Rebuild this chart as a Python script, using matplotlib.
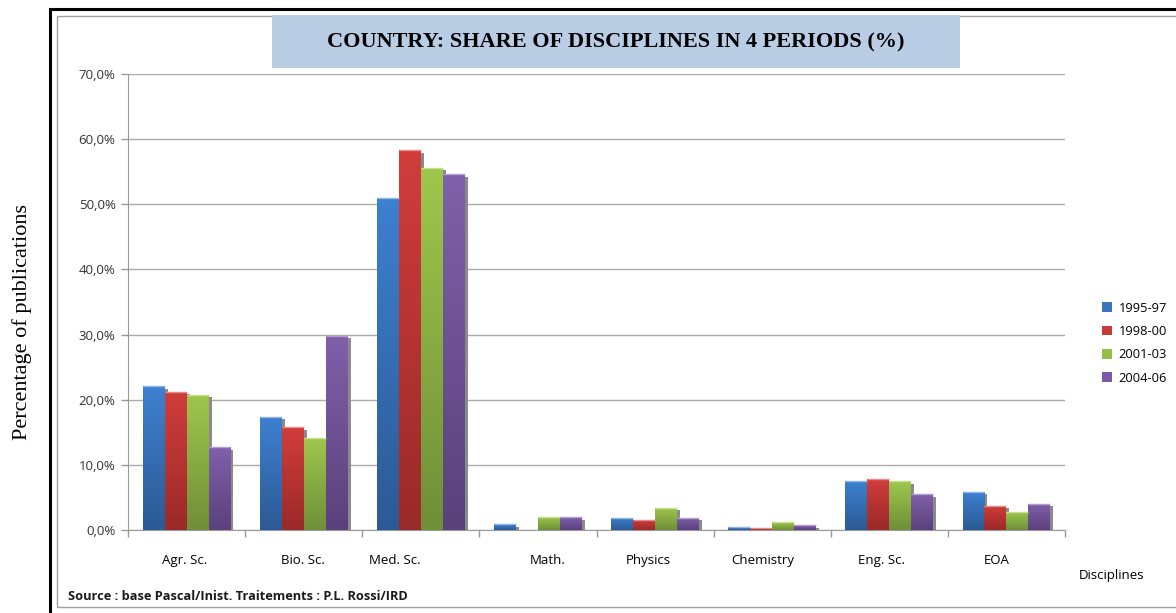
import numpy as np
import matplotlib
matplotlib.use("Agg")
import matplotlib.pyplot as plt
from matplotlib.patches import Rectangle, Patch
from matplotlib.colors import LinearSegmentedColormap
import matplotlib.transforms as mtransforms

categories = ["Agr. Sc.", "Bio. Sc.", "Med. Sc.", "Math.", "Physics", "Chemistry", "Eng. Sc.", "EOA"]
periods = ["1995-97", "1998-00", "2001-03", "2004-06"]
v1995 = [22.1, 17.4, 50.9, 0.9, 1.9, 0.4, 7.5, 5.9]
v1998 = [21.2, 15.8, 58.3, 0.0, 1.6, 0.25, 7.8, 3.7]
v2001 = [20.8, 14.1, 55.6, 2.05, 3.4, 1.2, 7.5, 2.8]
v2004 = [12.7, 29.8, 54.6, 1.95, 1.9, 0.7, 5.5, 4.0]
series = [v1995, v1998, v2001, v2004]
yticks = [0, 10, 20, 30, 40, 50, 60, 70]
label_shift = [-0.02, -0.01, -0.22, 0.08, -0.06, -0.08, -0.07, -0.08]

grad = [("#2c5a95", "#3d80d0"), ("#9a2a29", "#d03d3b"), ("#6f8f38", "#9ec74d"), ("#5a417c", "#8060aa")]
tops = ["#8fb6e6", "#e58b89", "#c6e08f", "#b29fd0"]
legend_cols = ["#3a76c0", "#c63a38", "#95bd49", "#7a5aa2"]

fig = plt.figure(figsize=(11.76, 6.13), dpi=100)
fig.patch.set_facecolor("white")

# frame
fig.patches.append(Rectangle((50/1176, -0.05), 1.2, (613-9)/613 + 0.05, transform=fig.transFigure,
                             fill=False, edgecolor="black", linewidth=2.2, zorder=0))
fig.patches.append(Rectangle((57/1176, (613-607)/613), 1.2, (607-16)/613, transform=fig.transFigure,
                             fill=False, edgecolor="#a0a0a0", linewidth=1.0, zorder=0))
# title box
fig.patches.append(Rectangle((272/1176, (613-68)/613), (960-272)/1176, 53/613, transform=fig.transFigure,
                             facecolor="#b9cde5", edgecolor="none", zorder=1))
fig.text(616/1176, (613-42)/613, "COUNTRY: SHARE OF DISCIPLINES IN 4 PERIODS (%)", ha="center", va="center",
         fontsize=16, fontweight="bold", family="Liberation Serif", color="black")

ax = fig.add_axes([128/1176, (613-530)/613, (1065-128)/1176, (530-74)/613])
n = len(categories)
x = np.arange(n)
bw = 0.75 / 4

for i, (vals, (c0, c1)) in enumerate(zip(series, grad)):
    offs = (i - 1.5) * bw
    cmap = LinearSegmentedColormap.from_list(f"g{i}", [c0, c1])
    for j, v in enumerate(vals):
        if v <= 0:
            continue
        x0 = x[j] + offs - bw / 2
        sh = Rectangle((x0, 0), bw, v, facecolor="#8a8a8a", edgecolor="none", zorder=2)
        sh.set_transform(ax.transData + mtransforms.ScaledTranslation(3/100, -2.5/100, fig.dpi_scale_trans))
        ax.add_patch(sh)
        rect = Rectangle((x0, 0), bw, v, facecolor="none", edgecolor="none", zorder=3)
        ax.add_patch(rect)
        im = ax.imshow(np.linspace(0, 1, 64).reshape(-1, 1), cmap=cmap, aspect="auto", origin="lower",
                       extent=(x0, x0 + bw, 0, v), zorder=3, interpolation="bilinear")
        im.set_clip_path(rect)
        ax.plot([x0, x0 + bw], [v, v], color=tops[i], linewidth=1.0, zorder=4, solid_capstyle="butt")
ax.set_xlim(-0.5, n - 0.5)
ax.set_ylim(0, 70)

ax.set_yticks(yticks)
ax.set_yticklabels([f"{t:.1f}%".replace(".", ",") for t in yticks], fontsize=9.5, family="Open Sans", color="#333333")
ax.yaxis.grid(True, color="#ababab", linewidth=1.0, zorder=0)
ax.set_axisbelow(True)
ax.set_xticks(np.arange(-0.5, n + 0.5, 1))
ax.set_xticklabels([])
ax.tick_params(axis="y", length=5, color="#9a9a9a", width=1, pad=4)
ax.tick_params(axis="x", length=5, color="#9a9a9a", width=1)
for s in ["top", "right"]:
    ax.spines[s].set_visible(False)
ax.spines["left"].set_color("#9a9a9a")
ax.spines["bottom"].set_color("#9a9a9a")
for j, lab in enumerate(categories):
    ax.text(x[j] + label_shift[j], -4.7, lab, ha="center", va="center", fontsize=9.5,
            family="Open Sans", color="black")

fig.text(22/1176, (613-322)/613, "Percentage of publications", rotation=90, ha="center", va="center",
         fontsize=16, family="Liberation Serif", color="black")

handles = [Patch(facecolor=c, edgecolor="none") for c in legend_cols]
fig.legend(handles, periods, loc="upper left", bbox_to_anchor=(1090/1176, (613-290)/613), frameon=False,
           prop={"family": "Open Sans", "size": 9.3}, handlelength=0.8, handleheight=0.8,
           handletextpad=0.5, labelspacing=0.8)

fig.text(1112/1176, (613-575)/613, "Disciplines", ha="center", va="center", fontsize=9.5, family="Open Sans")
fig.text(68/1176, (613-596)/613, "Source : base Pascal/Inist. Traitements : P.L. Rossi/IRD", ha="left", va="center",
         fontsize=9.2, fontweight="bold", family="Open Sans", color="#1a1a1a")

fig.savefig("out.png", dpi=100)
